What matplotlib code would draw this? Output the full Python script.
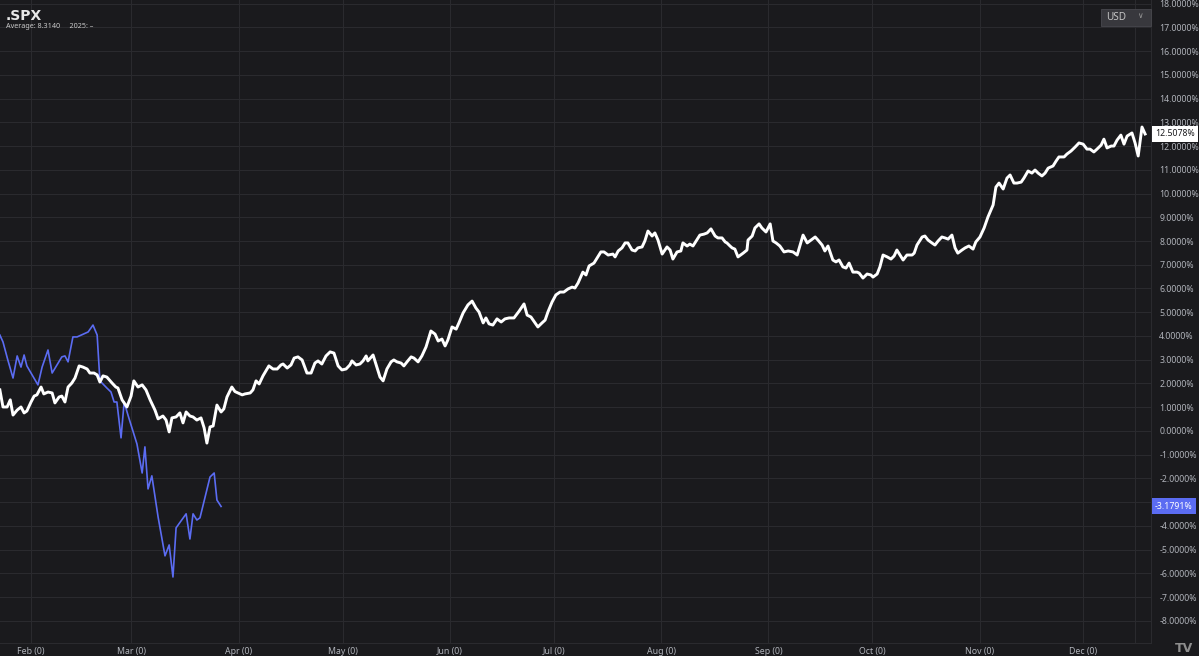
import matplotlib
matplotlib.use("Agg")
import matplotlib.pyplot as plt
import matplotlib.transforms as mtransforms
from matplotlib.patches import Rectangle

plt.rcParams['font.family'] = ['Noto Sans', 'DejaVu Sans']

# ---------------- data ----------------
# day-of-year (leap-year calendar, 0 = Jan 1) and seasonal return in %
avg_days = [22.0, 22.9, 24.1, 25.0, 25.8, 27.0, 28.1, 29.0, 29.8, 31.0, 31.9, 32.7, 33.9, 34.7, 35.9,
            37.1, 37.9, 39.1, 39.9, 40.8, 41.7, 42.8, 43.7, 44.9, 46.0, 47.2, 48.0, 49.2, 50.1, 50.9,
            51.8, 52.9, 54.4, 55.5, 56.1, 57.3, 58.7, 59.9, 60.7, 61.9, 63.1, 64.2, 65.4, 66.8, 67.7,
            69.1, 70.0, 70.9, 71.7, 72.9, 74.0, 74.9, 75.8, 76.9, 77.8, 78.9, 80.1, 81.0, 81.8, 82.7,
            83.6, 84.7, 85.9, 86.7, 87.6, 89.0, 89.9, 91.4, 92.0, 92.8, 94.3, 95.1, 96.0, 96.9, 98.0,
            99.7, 100.9, 102.1, 103.2, 103.8, 105.0, 106.1, 107.0, 108.1, 109.3, 110.7, 111.9, 113.0,
            113.9, 115.0, 116.2, 117.4, 118.5, 119.7, 120.8, 122.0, 123.1, 123.7, 124.9, 126.0, 126.9,
            127.8, 128.3, 129.8, 130.9, 131.8, 132.7, 133.8, 135.0, 135.8, 136.7, 137.9, 138.7, 139.6,
            140.8, 141.6, 142.8, 143.9, 145.1, 146.5, 147.7, 148.6, 149.7, 150.6, 151.4, 152.6, 153.8,
            154.6, 155.8, 157.2, 158.4, 159.5, 160.4, 161.6, 162.4, 163.3, 164.4, 165.6, 166.8, 167.9,
            169.1, 170.5, 172.0, 173.4, 174.3, 175.4, 176.6, 177.4, 178.6, 179.5, 180.3, 181.5, 182.6,
            183.8, 184.9, 186.1, 187.3, 188.1, 189.0, 190.4, 191.3, 192.2, 193.6, 194.5, 195.6, 196.5,
            197.7, 199.1, 199.7, 200.6, 201.7, 202.6, 203.4, 204.6, 205.5, 206.3, 207.5, 208.3, 209.2,
            210.4, 211.2, 212.1, 213.3, 214.7, 215.6, 216.4, 217.6, 218.7, 219.3, 220.5, 221.3, 222.2,
            224.2, 225.4, 226.3, 227.4, 228.6, 229.4, 230.6, 231.5, 232.0, 232.9, 233.5, 234.3, 235.2,
            236.7, 237.8, 238.1, 239.3, 240.1, 241.3, 242.1, 243.3, 244.5, 245.3, 246.2, 247.3, 248.5,
            249.7, 251.1, 252.3, 253.4, 254.0, 255.2, 256.3, 257.5, 258.3, 259.5, 260.3, 261.2, 262.6,
            263.5, 264.4, 265.5, 266.4, 267.3, 268.4, 269.6, 270.2, 271.3, 272.5, 273.6, 274.2, 275.4,
            276.2, 277.1, 278.3, 279.4, 280.3, 281.1, 282.0, 282.9, 284.0, 285.5, 286.1, 286.9, 288.4,
            289.2, 290.1, 291.2, 292.1, 293.0, 294.1, 295.0, 295.9, 297.0, 297.9, 298.7, 299.9, 300.8,
            301.9, 303.1, 303.9, 305.1, 306.3, 307.4, 308.9, 309.7, 310.6, 311.8, 312.9, 313.8, 314.9,
            315.8, 317.0, 317.8, 319.0, 320.1, 321.0, 321.9, 323.0, 323.9, 324.8, 326.2, 327.1, 327.9,
            329.4, 330.2, 331.4, 332.6, 333.7, 334.9, 336.0, 336.9, 338.0, 338.9, 340.1, 340.9, 341.8,
            343.0, 343.8, 344.7, 345.8, 346.7, 347.6, 349.0, 349.9, 350.8, 351.9, 352.8]
avg_vals = [1.73, 1.01, 1.01, 1.31, 0.67, 0.88, 1.01, 0.76, 0.84, 1.22, 1.47, 1.52, 1.85, 1.56, 1.64,
            1.60, 1.18, 1.43, 1.47, 1.22, 1.85, 2.02, 2.23, 2.74, 2.69, 2.61, 2.44, 2.44, 2.36, 2.06,
            2.32, 2.27, 2.02, 1.85, 1.81, 1.31, 1.01, 1.47, 2.11, 1.85, 1.94, 1.73, 1.31, 0.88, 0.51,
            0.63, 0.46, -0.04, 0.55, 0.59, 0.76, 0.34, 0.80, 0.63, 0.59, 0.46, 0.55, 0.13, -0.51, 0.17,
            0.21, 1.09, 0.80, 0.93, 1.43, 1.85, 1.66, 1.56, 1.52, 1.56, 1.60, 1.73, 2.11, 1.98, 2.32,
            2.74, 2.61, 2.61, 2.78, 2.82, 2.65, 2.78, 3.07, 3.12, 2.99, 2.44, 2.44, 2.86,
            2.95, 2.82, 3.16, 3.33, 3.28, 2.74, 2.57, 2.61, 2.78, 2.95, 2.78, 2.82, 2.95,
            3.16, 2.95, 3.20, 2.69, 2.27, 2.11, 2.61, 2.91, 2.99, 2.91, 2.86, 2.74, 2.91,
            3.12, 3.07, 2.91, 3.16, 3.54, 4.21, 4.08, 3.79, 3.87, 3.58, 3.83, 4.38, 4.29,
            4.55, 4.97, 5.31, 5.47, 5.18, 5.01, 4.55, 4.76, 4.51, 4.46, 4.72, 4.59, 4.72,
            4.76, 4.76, 5.05, 5.35, 4.88, 4.80, 4.55, 4.38, 4.55, 4.67, 5.01, 5.43, 5.73,
            5.85, 5.85, 5.98, 6.06, 6.02, 6.23, 6.69, 6.57, 6.95, 7.07, 7.28, 7.54, 7.54,
            7.41, 7.45, 7.33, 7.58, 7.71, 7.92, 7.92, 7.62, 7.58, 7.71, 7.75, 8.00, 8.42,
            8.21, 8.34, 8.04, 7.45, 7.75, 7.62, 7.24, 7.54, 7.58, 7.92, 7.79, 7.87, 7.79,
            8.25, 8.29, 8.34, 8.51, 8.21, 8.13, 8.13, 7.96, 7.92, 7.79, 7.71, 7.66, 7.33,
            7.49, 7.62, 8.04, 8.21, 8.55, 8.72, 8.55, 8.38, 8.72, 8.00, 7.92, 7.79, 7.54,
            7.58, 7.54, 7.41, 7.96, 8.25, 7.92, 8.04, 8.17, 8.04, 7.83, 7.58, 7.79, 7.20,
            7.12, 7.20, 6.91, 6.86, 7.07, 6.69, 6.69, 6.65, 6.44, 6.61, 6.57, 6.48, 6.61,
            6.91, 7.41, 7.33, 7.24, 7.37, 7.62, 7.41, 7.20, 7.41, 7.41, 7.49, 7.83, 8.17,
            8.21, 8.04, 7.92, 7.83, 8.00, 8.17, 8.13, 8.08, 8.25, 7.71, 7.49, 7.62, 7.71,
            7.79, 7.66, 7.96, 8.17, 8.55, 9.01, 9.52, 10.27, 10.44, 10.19, 10.65, 10.78, 10.44,
            10.44, 10.48, 10.65, 10.95, 10.86, 10.99, 10.86, 10.74, 10.86, 11.07, 11.16, 11.37, 11.54,
            11.54, 11.66, 11.79, 11.96, 12.13, 12.08, 11.87, 11.87, 11.75, 11.87, 12.04, 12.29, 11.92,
            12.00, 12.00, 12.25, 12.46, 12.08, 12.42, 12.55, 12.13, 11.58, 12.80, 12.5078]

cur_days = [22.0, 22.9, 24.3, 25.8, 27.0, 28.1, 29.0, 29.8, 33.0, 34.2, 35.9, 37.1, 39.9, 40.8, 41.7,
            43.1, 44.3, 47.5, 48.9, 50.1, 50.9, 52.9, 54.1, 55.0, 55.8, 57.0, 57.9, 59.0, 61.6, 63.1,
            63.9, 64.8, 65.9, 67.7, 69.7, 70.9, 72.0, 72.9, 75.8, 76.9, 77.8, 78.9, 79.8, 82.7, 83.9,
            84.7, 85.9]
cur_vals = [4.04, 3.75, 2.99, 2.23, 3.16, 2.69, 3.20, 2.74, 1.94, 2.69, 3.41, 2.44, 3.12, 3.16, 2.91,
            3.96, 3.96, 4.17, 4.46, 4.04, 2.11, 1.81, 1.64, 1.22, 1.22, -0.29, 1.22, 0.67, -0.55, -1.77,
            -0.67, -2.44, -1.89, -3.62, -5.26, -4.80, -6.15, -4.08, -3.49, -4.55, -3.49, -3.75, -3.66,
            -1.94, -1.77, -2.91, -3.1791]

month_days = [31, 60, 91, 121, 152, 182, 213, 244, 274, 305, 335]
month_labels = ["Feb (0)", "Mar (0)", "Apr (0)", "May (0)", "Jun (0)", "Jul (0)",
                "Aug (0)", "Sep (0)", "Oct (0)", "Nov (0)", "Dec (0)"]
extra_grid_day = 350
y_ticks = list(range(-8, 19))

title = ".SPX"
subtitle = "Average: 8.3140     2025: \u2013"
avg_last = 12.5078
cur_last = -3.1791

# ---------------- style ----------------
BG = "#1a1a1d"
GRID = "#2a2a2e"
TXT = "#b0b3ba"
WHITE = "#ffffff"
BLUE = "#5b6cf2"

W, H = 1199, 656
fig = plt.figure(figsize=(W / 100, H / 100), dpi=100, facecolor=BG)
ax = fig.add_axes([0, 13 / H, 1151 / W, 643 / H])
ax.set_facecolor(BG)

ax.plot(avg_days, avg_vals, color=WHITE, lw=2.1, solid_joinstyle="round", zorder=3)
ax.plot(cur_days, cur_vals, color=BLUE, lw=1.2, solid_joinstyle="round", zorder=2)

ax.set_xlim(22.04, 354.5)
ax.set_ylim(-8.93, 18.15)

ax.set_xticks(month_days)
ax.set_xticklabels(month_labels)
ax.set_yticks(y_ticks)
ax.set_yticklabels([f"{v:.4f}%" for v in y_ticks])
ax.yaxis.tick_right()
ax.tick_params(axis="both", length=0, colors=TXT, labelsize=6.3)
ax.tick_params(axis="x", pad=3)
ax.tick_params(axis="y", pad=6)
ax.grid(True, color=GRID, lw=0.8, zorder=0)
ax.axvline(extra_grid_day, color=GRID, lw=0.8, zorder=0)

for s in ["top", "left"]:
    ax.spines[s].set_visible(False)
for s in ["right", "bottom"]:
    ax.spines[s].set_color(GRID)
    ax.spines[s].set_linewidth(0.8)

# last value labels on right axis
tr = mtransforms.blended_transform_factory(ax.transAxes, ax.transData)
ax.text(1.0035, avg_last, f"{avg_last:.4f}%", transform=tr, fontsize=6.3, color="#1a1a1d",
        va="center", ha="left", clip_on=False, zorder=10,
        bbox=dict(boxstyle="square,pad=0.4", fc="#ffffff", ec="none"))
ax.text(1.0035, cur_last, f"{cur_last:.4f}%", transform=tr, fontsize=6.3, color="#ffffff",
        va="center", ha="left", clip_on=False, zorder=10,
        bbox=dict(boxstyle="square,pad=0.4", fc=BLUE, ec="none"))

# header texts
fig.text(6 / W, 1 - 16 / H, title, fontsize=10, fontweight="bold", color="#e8e8e8",
         va="center", ha="left", family="DejaVu Sans")
fig.text(6 / W, 1 - 27 / H, subtitle, fontsize=5.2, color="#c8c8c8", va="center", ha="left")

# USD selector box
fig.patches.append(Rectangle((1101 / W, 1 - 26 / H), 50 / W, 17 / H, transform=fig.transFigure,
                             fc="#38383d", ec="#48484e", lw=0.6, zorder=5))
fig.text(1106 / W, 1 - 17.5 / H, "USD", fontsize=7.2, color="#c4c4c4", va="center", ha="left",
         zorder=6)
fig.text(1137 / W, 1 - 17 / H, "\u2228", fontsize=5.5, color="#9a9a9a", va="center", ha="left",
         zorder=6)

# logo
fig.text(1184 / W, 1 - 648 / H, "TV", fontsize=9, fontweight="bold", color="#8e8e8e",
         va="center", ha="center", family="DejaVu Sans")

fig.savefig("out.png", dpi=100, facecolor=BG)
